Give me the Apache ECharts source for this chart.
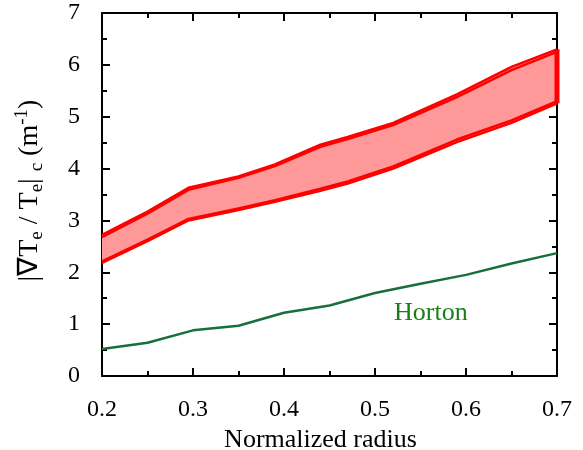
<!DOCTYPE html>
<html><head><meta charset="utf-8">
<script src="https://cdn.jsdelivr.net/npm/echarts@6/dist/echarts.min.js"></script>
<style>html,body{margin:0;padding:0;background:#fff}#c{width:583px;height:450px}</style>
</head><body><div id="c"></div>
<script>
var radius = [0.2, 0.25, 0.295, 0.35, 0.39, 0.44, 0.47, 0.52, 0.59, 0.65, 0.7];
var upperA = [2.72, 3.17, 3.63, 3.85, 4.08, 4.46, 4.61, 4.88, 5.43, 5.96, 6.3];
var upperB = [2.68, 3.13, 3.59, 3.82, 4.05, 4.42, 4.57, 4.84, 5.38, 5.90, 6.25];
var lowerA = [2.21, 2.63, 3.03, 3.23, 3.39, 3.61, 3.75, 4.04, 4.56, 4.93, 5.30];
var lowerB = [2.18, 2.60, 3.00, 3.20, 3.36, 3.57, 3.71, 4.00, 4.51, 4.88, 5.26];
var hortonR = [0.2, 0.25, 0.3, 0.35, 0.4, 0.45, 0.5, 0.55, 0.6, 0.65, 0.7];
var hortonV = [0.52, 0.64, 0.88, 0.97, 1.22, 1.36, 1.60, 1.78, 1.95, 2.17, 2.37];
var xTicks = ['0.2', '0.3', '0.4', '0.5', '0.6', '0.7'];

function pairs(xs, ys) { return xs.map(function (x, i) { return [x, ys[i]]; }); }
var bandData = radius.map(function (x, i) { return [x, upperA[i], lowerB[i]]; });
var edge = [[radius[radius.length - 1], lowerB[lowerB.length - 1]], [radius[radius.length - 1], upperA[upperA.length - 1]]];

var serif = 'Liberation Serif';
var chart = echarts.init(document.getElementById('c'));
var axisCommon = {
  axisLine: { show: true, onZero: false, lineStyle: { color: '#000', width: 2 } },
  axisTick: { show: true, inside: true, length: 8, lineStyle: { color: '#000', width: 2 } },
  minorTick: { show: true, splitNumber: 2, length: 5, lineStyle: { color: '#000', width: 2 } },
  splitLine: { show: false }
};
function redLine(d) {
  return { type: 'line', data: d, symbol: 'none', lineStyle: { color: '#ff0000', width: 2.5 }, z: 4, silent: true };
}
chart.setOption({
  animation: false,
  textStyle: { fontFamily: serif },
  grid: { left: 102, right: 26, top: 13, bottom: 74, containLabel: false, outerBoundsMode: 'none' },
  xAxis: [
    Object.assign({ type: 'value', min: 0.2, max: 0.7, interval: 0.1, position: 'bottom',
      name: 'Normalized radius', nameLocation: 'middle', nameGap: 39,
      nameTextStyle: { fontFamily: serif, fontSize: 26, color: '#000', padding: [0, 18, 0, 0] },
      axisLabel: { margin: 22, fontFamily: serif, fontSize: 24, color: '#000',
        formatter: function (v) { return xTicks[Math.round((v - 0.2) * 10)] || ''; } } }, axisCommon),
    Object.assign({ type: 'value', min: 0.2, max: 0.7, interval: 0.1, position: 'top', axisLabel: { show: false } }, axisCommon)
  ],
  yAxis: [
    Object.assign({ type: 'value', min: 0, max: 7, interval: 1, position: 'left',
      name: '|∇T{sub|e} / T{sub|e}| {sub|c} (m{sup|-1})', nameLocation: 'middle', nameGap: 55,
      nameTextStyle: { fontFamily: serif, fontSize: 28, color: '#000', lineHeight: 34, padding: [0, 0, 0, 8],
        rich: { sub: { fontFamily: serif, fontSize: 19, lineHeight: 24, verticalAlign: 'bottom' },
                sup: { fontFamily: serif, fontSize: 19, lineHeight: 22, verticalAlign: 'top' } } },
      axisLabel: { margin: 22, fontFamily: serif, fontSize: 24, color: '#000' } }, axisCommon),
    Object.assign({ type: 'value', min: 0, max: 7, interval: 1, position: 'right', axisLabel: { show: false } }, axisCommon)
  ],
  series: [
    { type: 'custom', data: bandData, silent: true, z: 3,
      renderItem: function (params, api) {
        if (params.dataIndex !== 0) return null;
        var pts = [];
        for (var i = 0; i < bandData.length; i++) pts.push(api.coord([bandData[i][0], bandData[i][1]]));
        for (var j = bandData.length - 1; j >= 0; j--) pts.push(api.coord([bandData[j][0], bandData[j][2]]));
        return { type: 'polygon', shape: { points: pts }, style: { fill: '#ff9999' } };
      } },
    redLine(pairs(radius, upperA)),
    redLine(pairs(radius, upperB)),
    redLine(pairs(radius, lowerA)),
    redLine(pairs(radius, lowerB)),
    { type: 'line', data: edge, symbol: 'none', lineStyle: { color: '#ff0000', width: 5 }, z: 4, silent: true },
    { type: 'line', data: pairs(hortonR, hortonV), symbol: 'none', lineStyle: { color: '#17703c', width: 2.5 }, z: 5, silent: true }
  ],
  graphic: [
    { type: 'text', left: 394, top: 300, style: { text: 'Horton', fontFamily: serif, fontSize: 26, fill: '#1a7f1a' } }
  ]
});
</script></body></html>
